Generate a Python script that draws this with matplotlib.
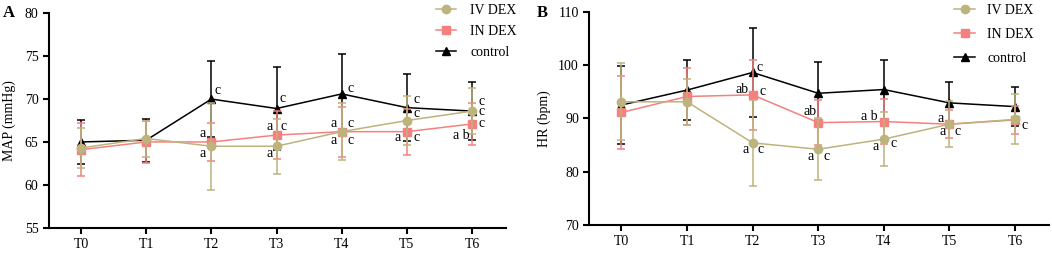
import numpy as np
import matplotlib
matplotlib.use("Agg")
import matplotlib.pyplot as plt
from matplotlib.lines import Line2D

plt.rcParams['font.family'] = ['Liberation Serif', 'DejaVu Serif']
plt.rcParams['font.size'] = 10

times = ["T0", "T1", "T2", "T3", "T4", "T5", "T6"]
groups = ["IV DEX", "IN DEX", "control"]

# MAP (mmHg) mean / sd
map_iv = [64.3, 65.4, 64.5, 64.5, 66.2, 67.5, 68.6]
map_iv_sd = [2.3, 2.1, 5.1, 3.2, 3.3, 2.9, 2.7]
map_in = [64.1, 65.0, 65.0, 65.8, 66.2, 66.2, 67.1]
map_in_sd = [3.1, 2.4, 2.2, 2.8, 2.9, 2.7, 2.4]
map_ctl = [65.0, 65.2, 70.0, 68.9, 70.6, 69.0, 68.6]
map_ctl_sd = [2.6, 2.5, 4.4, 4.8, 4.6, 3.9, 3.4]

# HR (bpm) mean / sd
hr_iv = [93.1, 93.1, 85.4, 84.2, 86.1, 88.9, 89.8]
hr_iv_sd = [7.2, 4.3, 8.0, 5.8, 5.0, 4.3, 4.7]
hr_in = [91.1, 94.1, 94.4, 89.2, 89.4, 88.9, 89.7]
hr_in_sd = [6.8, 5.4, 6.6, 4.2, 4.3, 2.6, 2.6]
hr_ctl = [92.5, 95.3, 98.6, 94.7, 95.4, 92.9, 92.2]
hr_ctl_sd = [7.4, 5.7, 8.3, 5.9, 5.5, 4.0, 3.6]

# significance letters: (x, y, text)
map_letters = [
    (2.09, 71.05, "c"), (1.86, 66.0, "a"), (1.86, 63.7, "a"),
    (3.10, 70.1, "c"), (2.90, 66.85, "a"), (3.11, 66.85, "c"), (2.90, 63.6, "a"),
    (4.13, 71.26, "c"), (3.87, 67.2, "a"), (4.13, 67.2, "c"), (3.87, 65.2, "a"), (4.13, 65.2, "c"),
    (5.15, 69.9, "c"), (5.15, 68.3, "c"), (4.86, 65.5, "a"), (5.15, 65.5, "c"),
    (6.15, 69.7, "c"), (6.15, 68.6, "c"), (6.15, 67.1, "c"), (5.83, 65.8, "a b"),
]
hr_letters = [
    (2.10, 99.5, "c"), (1.84, 95.4, "ab"), (2.15, 95.1, "c"), (1.89, 84.2, "a"), (2.12, 84.2, "c"),
    (2.88, 91.2, "ab"), (2.88, 82.8, "a"), (3.13, 82.8, "c"),
    (3.78, 90.4, "a b"), (3.87, 84.8, "a"), (4.15, 85.2, "c"),
    (4.87, 90.0, "a"), (4.89, 87.5, "a"), (5.12, 87.5, "c"),
    (6.14, 88.7, "c"),
]

tan = '#bdb37c'
pink = '#f4817f'
black = '#000000'
styles = [(tan, 'o', 6.0), (pink, 's', 5.5), (black, '^', 5.5)]


def panel(ax, series, ylim, yticks, ylabel, letters, labx):
    x = np.arange(len(times))
    # control first, then IN DEX, IV DEX on top
    for i in [2, 1, 0]:
        m, sd = series[i]
        c, mk, ms = styles[i]
        ax.errorbar(x, m, yerr=sd, color=c, marker=mk, markersize=ms, lw=1.1,
                    elinewidth=1.1, capsize=3.2, capthick=1.1, zorder=3 - i * 0.5)
    for xx, yy, t in letters:
        ax.text(xx, yy, t, ha='center', va='center', zorder=5)
    ax.set_xlim(-0.49, 6.52)
    ax.set_ylim(*ylim)
    ax.set_yticks(yticks)
    ax.set_xticks(x)
    ax.set_xticklabels(times)
    ax.set_ylabel(ylabel, va='center')
    ax.yaxis.set_label_coords(labx, 0.5)
    for s in ['top', 'right']:
        ax.spines[s].set_visible(False)
    for s in ['left', 'bottom']:
        ax.spines[s].set_linewidth(1.5)
    ax.tick_params(width=1.5, length=4, direction='out')


fig = plt.figure(figsize=(10.52, 2.54), dpi=100)
ax1 = fig.add_axes([0.0466, 0.1035, 0.4344, 0.8441])
ax2 = fig.add_axes([0.5602, 0.1142, 0.4370, 0.8398])

panel(ax1, [(map_iv, map_iv_sd), (map_in, map_in_sd), (map_ctl, map_ctl_sd)],
      (55, 80), [55, 60, 65, 70, 75, 80], "MAP (mmHg)", map_letters, -0.088)
panel(ax2, [(hr_iv, hr_iv_sd), (hr_in, hr_in_sd), (hr_ctl, hr_ctl_sd)],
      (70, 110), [70, 80, 90, 100, 110], "HR (bpm)", hr_letters, -0.098)

handles = [Line2D([], [], color=c, marker=mk, markersize=ms, lw=1.1) for c, mk, ms in styles]
ax1.legend(handles, groups, loc='upper left', bbox_to_anchor=(0.414, 0.985),
           bbox_transform=fig.transFigure, frameon=False, handlelength=1.5,
           handletextpad=1.0, labelspacing=0.58, borderaxespad=0, borderpad=0)
ax2.legend(handles, groups, loc='upper left', bbox_to_anchor=(0.907, 0.985),
           bbox_transform=fig.transFigure, frameon=False, handlelength=1.5,
           handletextpad=0.9, labelspacing=0.8, borderaxespad=0, borderpad=0)

fig.text(0.003, 0.948, "A", fontsize=12, fontweight='bold', va='center')
fig.text(0.510, 0.948, "B", fontsize=12, fontweight='bold', va='center')

fig.savefig("out.png", dpi=100)
